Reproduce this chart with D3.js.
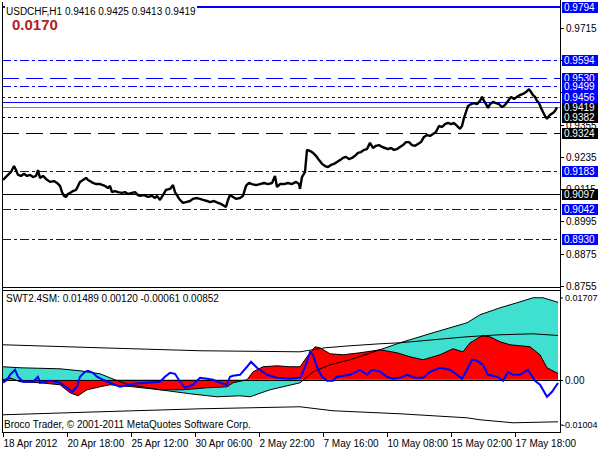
<!DOCTYPE html>
<html><head><meta charset="utf-8">
<script src="https://cdn.jsdelivr.net/npm/d3@7"></script>
<style>
html,body{margin:0;padding:0;background:#fff;}
svg{display:block;}
text{font-family:"Liberation Sans",Arial,sans-serif;font-size:10px;}
</style></head>
<body>
<svg id="chart" width="600" height="450"></svg>
<script>
// ---------------- DATA ----------------
const symbolTitle = "USDCHF,H1  0.9416 0.9425 0.9413 0.9419";
const spreadText = "0.0170";
const indicatorTitle = "SWT2.4SM:  0.01489 0.00120 -0.00061 0.00852";
const copyrightText = "Broco Trader, \u00a9 2001-2011 MetaQuotes Software Corp.";

// price closes: [bar index, price]
const priceBars = [0,2,5,8,11,13,15,18,21,24,27,30,33,35,37,40,43,47,51,54,57,59,61,63,65,67,70,73,75,77,80,83,85,87,90,93,97,102,105,107,109,112,115,119,122,125,129,132,135,137,141,145,149,152,154,157,160,163,167,170,172,175,177,180,183,187,190,193,197,200,204,207,211,215,218,221,223,225,227,230,233,237,240,243,246,249,253,257,261,265,269,272,274,277,281,285,289,293,296,297,299,302,304,307,310,313,316,319,322,325,328,331,334,337,340,343,346,349,352,355,358,361,364,367,370,373,376,379,382,385,388,391,394,397,400,403,406,409,412,415,418,421,424,427,430,433,436,439,442,445,448,451,454,457,459,461,463,465,468,471,474,477,479,481,483,485,487,490,493,496,499,502,505,508,511,514,517,520,523,526,528,530,532,534,536,538,540,542,544,546,548,550,552,554];
const priceClose = [0.9149,0.9157,0.9168,0.9179,0.9201,0.9186,0.9168,0.9164,0.9172,0.9164,0.9168,0.9160,0.9164,0.9186,0.9157,0.9164,0.9153,0.9142,0.9145,0.9138,0.9127,0.9104,0.9090,0.9086,0.9097,0.9101,0.9108,0.9112,0.9127,0.9142,0.9149,0.9157,0.9149,0.9145,0.9138,0.9134,0.9134,0.9127,0.9119,0.9127,0.9104,0.9108,0.9104,0.9101,0.9104,0.9097,0.9101,0.9104,0.9093,0.9090,0.9093,0.9086,0.9090,0.9082,0.9090,0.9075,0.9093,0.9112,0.9116,0.9130,0.9104,0.9086,0.9075,0.9064,0.9067,0.9071,0.9079,0.9082,0.9079,0.9075,0.9071,0.9067,0.9071,0.9064,0.9060,0.9053,0.9049,0.9075,0.9093,0.9086,0.9079,0.9082,0.9090,0.9127,0.9138,0.9134,0.9130,0.9134,0.9138,0.9134,0.9138,0.9164,0.9123,0.9134,0.9134,0.9138,0.9134,0.9142,0.9134,0.9116,0.9160,0.9179,0.9261,0.9257,0.9250,0.9239,0.9223,0.9209,0.9201,0.9197,0.9205,0.9209,0.9216,0.9223,0.9231,0.9235,0.9227,0.9231,0.9239,0.9250,0.9253,0.9261,0.9264,0.9287,0.9268,0.9276,0.9279,0.9272,0.9268,0.9264,0.9268,0.9261,0.9264,0.9272,0.9279,0.9290,0.9290,0.9279,0.9276,0.9283,0.9290,0.9309,0.9316,0.9313,0.9320,0.9328,0.9350,0.9346,0.9357,0.9361,0.9357,0.9361,0.9350,0.9339,0.9350,0.9380,0.9402,0.9424,0.9431,0.9435,0.9431,0.9443,0.9458,0.9443,0.9431,0.9417,0.9431,0.9439,0.9435,0.9431,0.9420,0.9428,0.9443,0.9458,0.9450,0.9458,0.9465,0.9469,0.9476,0.9487,0.9476,0.9465,0.9458,0.9443,0.9435,0.9417,0.9402,0.9387,0.9376,0.9387,0.9394,0.9398,0.9406,0.9419];

// y axis ticks of the main window
const priceTicks = [0.9715,0.9595,0.9475,0.9355,0.9235,0.9115,0.8995,0.8875,0.8755];
const priceMin = 0.8755, priceMax = 0.9794;

// horizontal levels
const levelValues = [0.9794,0.9594,0.9530,0.9499,0.9439,0.9419,0.9456,0.9382,0.9324,0.9183,0.9097,0.9042,0.8930];
const levelKinds  = ["blueSolid2","blueDashDot","blueDash","blueDashDot","blueSolid","bid","blueDot","blackDot","blackDash","blueDashDot","blackSolid","blueDashDot","blueDashDot"];

// time axis
const timeTickBars = [0,64,128,192,256,320,384,448,512];
const timeTickLabels = ["18 Apr 2012","20 Apr 18:00","25 Apr 12:00","30 Apr 06:00","2 May 22:00","7 May 16:00","10 May 08:00","15 May 02:00","17 May 18:00"];
const barCount = 557;

// indicator SWT2.4SM
const subMax = 0.01707, subMin = -0.01004;
const subTicks = [0.01707, 0.00, -0.01004];
const subTickLabels = ["0.01707","0.00","-0.01004"];

const cyanBars = [0,17,57,77,97,107,117,127,157,187,214,237,247,267,297,310,327,347,377,397,430,464,477,497,514,530,540,555];
const cyanVals = [0.0025,0.00231,0.00211,0.00173,0.00115,0.00038,-0.00038,-0.00096,-0.00192,-0.00269,-0.00327,-0.00308,-0.00327,-0.00192,-0.00058,0.00154,0.00288,0.00385,0.00577,0.00711,0.00904,0.01096,0.0125,0.01384,0.01481,0.01577,0.01577,0.01489];

const redBars = [0,7,17,37,57,67,75,84,97,107,130,157,180,204,224,230,244,250,260,274,287,297,304,312,317,327,340,357,377,394,407,420,437,450,460,467,479,487,497,507,527,537,544,555];
const redVals = [0,0.00038,-0.00038,-0.00058,-0.00096,-0.0025,-0.00308,-0.00192,-0.00135,-0.00096,-0.00135,-0.00192,-0.00192,-0.00154,-0.00135,-0.00058,0,0.00154,0.0025,0.00269,0.0025,0.0025,0.00442,0.00634,0.00615,0.005,0.00481,0.00519,0.00577,0.00519,0.00442,0.00385,0.00481,0.00596,0.00538,0.00711,0.00846,0.00827,0.00731,0.00673,0.00635,0.00481,0.00231,0.0012];

const blueBars = [0,4,7,12,15,20,30,35,37,47,57,64,69,74,77,82,85,90,94,100,107,117,130,144,157,162,167,172,177,182,190,197,204,210,217,224,227,230,237,244,248,254,264,274,287,297,300,304,307,310,314,319,324,330,334,347,357,364,369,377,384,390,397,404,412,420,427,437,447,454,459,464,469,474,480,485,494,500,505,510,517,525,532,537,544,549,555];
const blueVals = [-0.00058,0,0.00096,0.00192,0.00058,-0.00038,-0.00038,0.00058,-0.00058,-0.00019,-0.00058,-0.00154,-0.00231,-0.00135,0.00058,0.00154,0.00173,0.00135,0.00058,0,-0.00058,-0.00135,-0.00077,-0.00058,-0.00038,0.00058,0.00135,0.00115,-0.00038,-0.00154,-0.00096,0.00038,0.00019,0,-0.00058,-0.00096,0.00058,0.00077,0.00096,0.0025,0.00346,0.00231,0.00096,0.00038,0.00019,0.00038,0.00154,0.00346,0.00538,0.00481,0.0025,0.00058,-0.00019,-0.00019,0.00058,0.00096,0.00192,0.00096,0.00192,0.00154,0.00058,0.00019,0.00038,0.00096,0.00038,0.00038,0.00154,0.00231,0.00192,0.00096,0.00019,0.00192,0.00385,0.00365,0.00288,0.00096,0.00058,-0.00019,0.00154,0.00096,0.00096,0.00192,-0.00019,-0.00096,-0.00327,-0.00231,-0.00061];

const upperBars = [0,97,197,297,322,347,377,397,430,464,497,530,555];
const upperVals = [0.00673,0.00615,0.00558,0.00538,0.00615,0.00654,0.00692,0.00711,0.00769,0.00827,0.00865,0.00884,0.00852];

const lowerBars = [0,97,197,297,330,397,464,477,510,555];
const lowerVals = [-0.00673,-0.00615,-0.00558,-0.00519,-0.00596,-0.00654,-0.00731,-0.00769,-0.00827,-0.00808];

// ---------------- DRAWING ----------------
const svg = d3.select("#chart");
const L = 2, R = 560;
const mainTop = 6.5, mainBot = 286, mainFrameBot = 287.5;
const subTop = 291, subBot = 432;

const x = d3.scaleLinear().domain([0, barCount]).range([3, R]);
const y = d3.scaleLinear().domain([priceMin, priceMax]).range([mainBot, mainTop]);
const ys = d3.scaleLinear().domain([subMin, subMax]).range([subBot, subTop]);

const zip = (a, b) => a.map((v, i) => [v, b[i]]);

// clip paths
const defs = svg.append("defs");
defs.append("clipPath").attr("id","cm").append("rect").attr("x",L+1).attr("y",0).attr("width",R-L-1).attr("height",mainFrameBot);
defs.append("clipPath").attr("id","cs").append("rect").attr("x",L+1).attr("y",subTop+1).attr("width",R-L-1).attr("height",subBot-subTop-1);

// ---- main window levels
const styles = {
  blueSolid2:{c:"#0000ff",w:2,d:null},
  blueSolid:{c:"#0000ff",w:1,d:null},
  blueDashDot:{c:"#0000ff",w:1,d:"9,3,3,3"},
  blueDash:{c:"#0000ff",w:1,d:"17,7"},
  blueDot:{c:"#0000ff",w:1,d:"3,3"},
  bid:{c:"#778899",w:1,d:null},
  blackDot:{c:"#000",w:1,d:"3,3"},
  blackDash:{c:"#000",w:1,d:"17,7"},
  blackSolid:{c:"#000",w:1,d:null}
};
const gm = svg.append("g").attr("clip-path","url(#cm)");
levelValues.forEach((v,i)=>{
  const s = styles[levelKinds[i]];
  const yy = Math.round(y(v)) + (s.w===1?0.5:0);
  const ln = gm.append("line").attr("x1",L).attr("x2",R).attr("y1",yy).attr("y2",yy)
    .attr("stroke",s.c).attr("stroke-width",s.w);
  if (s.d) ln.attr("stroke-dasharray",s.d);
});

// price line
gm.append("path").datum(zip(priceBars, priceClose))
  .attr("d", d3.line().x(d=>x(d[0])).y(d=>y(d[1])))
  .attr("fill","none").attr("stroke","#000").attr("stroke-width",2.4).attr("stroke-linejoin","bevel");

// title (with white background)
const tt = svg.append("text").attr("x",6).attr("y",15).text(symbolTitle);
const bb = tt.node().getBBox();
svg.insert("rect","text").attr("x",bb.x-1).attr("y",bb.y).attr("width",bb.width+2).attr("height",bb.height).attr("fill","#fff");
svg.append("text").attr("x",12).attr("y",30).attr("fill","#b22222")
  .style("font-size","15px").style("font-weight","bold").text(spreadText);

// ---- sub window
const gs = svg.append("g").attr("clip-path","url(#cs)");
gs.append("path").datum(zip(cyanBars,cyanVals))
  .attr("d", d3.area().x(d=>x(d[0])).y0(ys(0)).y1(d=>ys(d[1])))
  .attr("fill","#40e0d0");
gs.append("path").datum(zip(redBars,redVals))
  .attr("d", d3.area().x(d=>x(d[0])).y0(ys(0)).y1(d=>ys(d[1])))
  .attr("fill","#ff0000");
const lineS = d3.line().x(d=>x(d[0])).y(d=>ys(d[1]));
gs.append("path").datum(zip(cyanBars,cyanVals)).attr("d",lineS).attr("fill","none").attr("stroke","#000").attr("stroke-width",1);
gs.append("path").datum(zip(redBars,redVals)).attr("d",lineS).attr("fill","none").attr("stroke","#000").attr("stroke-width",1);
gs.append("path").datum(zip(upperBars,upperVals)).attr("d",lineS).attr("fill","none").attr("stroke","#000").attr("stroke-width",1);
gs.append("path").datum(zip(lowerBars,lowerVals)).attr("d",lineS).attr("fill","none").attr("stroke","#000").attr("stroke-width",1);
gs.append("line").attr("x1",L).attr("x2",R).attr("y1",Math.round(ys(0))+0.5).attr("y2",Math.round(ys(0))+0.5).attr("stroke","#000");
gs.append("path").datum(zip(blueBars,blueVals)).attr("d",lineS).attr("fill","none").attr("stroke","#0000ff").attr("stroke-width",2);

svg.append("text").attr("x",6).attr("y",302).text(indicatorTitle);
svg.append("text").attr("x",4).attr("y",428).text(copyrightText);

// ---- frames
const fr = svg.append("g").attr("stroke","#000").attr("fill","none");
fr.append("line").attr("x1",L+0.5).attr("x2",L+0.5).attr("y1",2).attr("y2",subBot);
fr.append("line").attr("x1",R+0.5).attr("x2",R+0.5).attr("y1",0).attr("y2",subBot+0.5);
fr.append("line").attr("x1",L).attr("x2",R).attr("y1",mainFrameBot).attr("y2",mainFrameBot);
fr.append("line").attr("x1",L).attr("x2",R).attr("y1",subTop-0.5).attr("y2",subTop-0.5);
fr.append("line").attr("x1",L).attr("x2",R+1).attr("y1",subBot+0.5).attr("y2",subBot+0.5);

// ---- main price axis ticks
const ax = svg.append("g");
priceTicks.forEach(v=>{
  const yy = Math.round(y(v))+0.5;
  ax.append("line").attr("x1",R).attr("x2",R+4).attr("y1",yy).attr("y2",yy).attr("stroke","#000");
  ax.append("text").attr("x",R+6).attr("y",yy).attr("dy","0.35em").text(v.toFixed(4));
});
// level labels
levelValues.forEach((v,i)=>{
  const s = styles[levelKinds[i]];
  const bg = s.c === "#0000ff" ? "#0000ff" : "#000";
  const yy = Math.round(y(v));
  ax.append("rect").attr("x",R+2).attr("y",yy-5).attr("width",36).attr("height",11).attr("fill",bg);
  ax.append("text").attr("x",R+4).attr("y",yy+0.5).attr("dy","0.35em").attr("fill","#fff").text(v.toFixed(4));
});

// ---- sub axis
subTicks.forEach((v,i)=>{
  let yy = Math.round(ys(v))+0.5;
  if (i===0) yy = subTop+7; if (i===2) yy = subBot-7;
  ax.append("line").attr("x1",R).attr("x2",R+3).attr("y1",yy).attr("y2",yy).attr("stroke","#000");
  const t = ax.append("text").attr("x",R+(i===2?2:5)).attr("y",yy).attr("dy","0.35em").text(subTickLabels[i]);
  if (i !== 1) t.style("font-size","9px");
});

// ---- time axis
timeTickBars.forEach((b,i)=>{
  const xx = Math.round(x(b))+0.5;
  ax.append("line").attr("x1",xx).attr("x2",xx).attr("y1",subBot).attr("y2",subBot+5).attr("stroke","#000");
  ax.append("text").attr("x",xx).attr("y",447).text(timeTickLabels[i]);
});
</script>
</body></html>
